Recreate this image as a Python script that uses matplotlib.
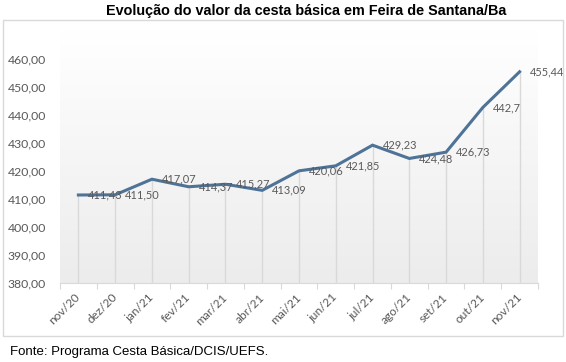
import numpy as np
import matplotlib
matplotlib.use("Agg")
import matplotlib.pyplot as plt
from matplotlib.patches import Rectangle

months = ["nov/20", "dez/20", "jan/21", "fev/21", "mar/21", "abr/21", "mai/21",
          "jun/21", "jul/21", "ago/21", "set/21", "out/21", "nov/21"]
values = [411.43, 411.50, 417.07, 414.37, 415.27, 413.09, 420.06,
          421.85, 429.23, 424.48, 426.73, 442.70, 455.44]
value_labels = ["411,43", "411,50", "417,07", "414,37", "415,27", "413,09", "420,06",
                "421,85", "429,23", "424,48", "426,73", "442,7", "455,44"]
yticks = [380, 390, 400, 410, 420, 430, 440, 450, 460]

LINE_COLOR = "#4e7397"
GRAY_TEXT = "#595959"
LABEL_FONT = "Lato"

W, H = 566, 362
fig = plt.figure(figsize=(W / 100, H / 100), dpi=100)

# outer chart border
fig.patches.append(Rectangle((3 / W, 1 - 336 / H), 560 / W, (336 - 19.5) / H,
                             transform=fig.transFigure, fill=False,
                             edgecolor="#d9d9d9", linewidth=1.0))

ax = fig.add_axes([60 / W, 1 - 283 / H, 478 / W, (283 - 31) / H])
x = np.arange(len(months))
ymin, ymax = 380, 470
ax.set_xlim(-0.5, len(months) - 0.5)
ax.set_ylim(ymin, ymax)

# light vertical gradient behind the plot
grad = np.linspace(0, 1, 256).reshape(-1, 1)
ax.imshow(grad, extent=(-0.5, len(months) - 0.5, ymin, ymax), origin="lower",
          aspect="auto", cmap=matplotlib.colors.LinearSegmentedColormap.from_list(
              "bg", ["#ececec", "#ffffff"]), zorder=0)

# drop lines from each point to the axis
ax.vlines(x, ymin, values, color="#d9d9d9", linewidth=1.0, zorder=1)
ax.plot(x, values, color=LINE_COLOR, linewidth=2.2, solid_joinstyle="miter", zorder=3)

for xi, v, lab in zip(x, values, value_labels):
    ax.annotate(lab, (xi, v), xytext=(10, 0), textcoords="offset pixels",
                ha="left", va="center", fontsize=7.9, color=GRAY_TEXT,
                family=LABEL_FONT, zorder=4)

for s in ["top", "right", "left"]:
    ax.spines[s].set_visible(False)
ax.spines["bottom"].set_color("#d9d9d9")

ax.set_yticks(yticks)
ax.set_yticklabels([f"{t},00" for t in yticks], fontsize=8.8, color=GRAY_TEXT,
                   family=LABEL_FONT)
ax.tick_params(axis="y", length=0, pad=10)

ax.set_xticks(np.arange(len(months) + 1) - 0.5)
ax.set_xticklabels([])
ax.tick_params(axis="x", which="major", length=4, color="#d9d9d9")
ax.set_xticks(x, minor=True)
ax.set_xticklabels(months, minor=True, rotation=45, ha="right", va="center",
                   rotation_mode="anchor", fontsize=8.6, color=GRAY_TEXT,
                   family=LABEL_FONT)
ax.tick_params(axis="x", which="minor", length=0, pad=9)

fig.text(306 / W, 1 - 11 / H, "Evolução do valor da cesta básica em Feira de Santana/Ba",
         ha="center", va="center", fontsize=10.4, fontweight="bold",
         family="Liberation Sans", color="#000000")
fig.text(10 / W, 1 - 352 / H, "Fonte: Programa Cesta Básica/DCIS/UEFS.",
         ha="left", va="center", fontsize=9.5, family="Liberation Sans",
         color="#000000")

fig.savefig("out.png", dpi=100)
